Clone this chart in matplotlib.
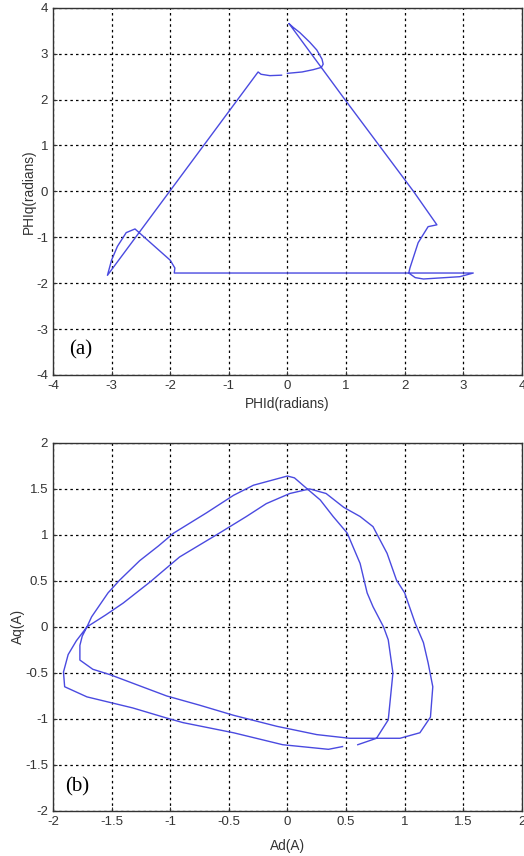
import numpy as np
import matplotlib.pyplot as plt

# (a) flux locus
phid = [0.03, 0.98, 2.15, 2.55, 2.4, 2.23, 2.09, 2.07, 2.18, 2.32, 2.94, 3.17,
        -1.93, -1.92, -2.0, -2.6, -2.75, -2.9, -3.0, -3.07,
        -0.5, -0.45, -0.3, -0.1, np.nan, 0.0, 0.25, 0.44, 0.58, 0.61, 0.59, 0.5, 0.38, 0.21, 0.1, 0.03]
phiq = [3.65, 2.0, 0.0, -0.73, -0.77, -1.12, -1.67, -1.78, -1.88, -1.91, -1.86, -1.78,
        -1.78, -1.67, -1.5, -0.82, -0.9, -1.2, -1.5, -1.83,
        2.6, 2.55, 2.52, 2.53, np.nan, 2.57, 2.6, 2.65, 2.7, 2.77, 2.88, 3.08, 3.25, 3.46, 3.57, 3.65]

# (b) current locus
ad = [0.6, 0.76, 0.86, 0.9, 0.86, 0.82, 0.73, 0.68, 0.62, 0.51, 0.39, 0.28, 0.16, 0.06, 0.0,
      -0.29, -0.46, -0.69, -0.97, -1.1, -1.26, -1.43, -1.53, -1.6, -1.67, -1.71, -1.75, -1.77, -1.77,
      -1.66, -1.51, -1.26, -1.03, -0.75, -0.46, -0.09, 0.25, 0.53, 0.96, 1.13, 1.22, 1.24, 1.2, 1.16, 1.09,
      1.0, 0.93, 0.85, 0.73, 0.62, 0.48, 0.33, 0.19, 0.02, -0.18, -0.35, -0.58, -0.75, -0.92, -1.05,
      -1.17, -1.29, -1.4, -1.55, -1.71, -1.8, -1.87, -1.91, -1.9, -1.71, -1.32, -1.03, -0.89, -0.46,
      -0.04, 0.35, 0.47]
aq = [-1.28, -1.21, -1.01, -0.5, -0.14, 0.0, 0.22, 0.37, 0.69, 1.02, 1.2, 1.38, 1.51, 1.62, 1.64,
      1.54, 1.43, 1.24, 1.02, 0.88, 0.72, 0.51, 0.37, 0.24, 0.11, 0.0, -0.1, -0.2, -0.36,
      -0.46, -0.52, -0.64, -0.75, -0.85, -0.96, -1.08, -1.17, -1.21, -1.21, -1.15, -0.98, -0.65, -0.39, -0.17, 0.04,
      0.37, 0.51, 0.8, 1.09, 1.2, 1.3, 1.45, 1.5, 1.45, 1.34, 1.2, 1.02, 0.89, 0.76, 0.62,
      0.49, 0.37, 0.26, 0.13, 0.0, -0.15, -0.3, -0.49, -0.65, -0.76, -0.88, -0.99, -1.04, -1.15,
      -1.28, -1.33, -1.3]

plt.rcParams['font.family'] = ['Liberation Sans', 'DejaVu Sans']
plt.rcParams['axes.unicode_minus'] = False
line_c = '#4a4ae0'
txt_c = '#333333'

fig = plt.figure(figsize=(5.24, 8.56), dpi=100)
ax1 = fig.add_axes([0.101, 0.562, 0.895, 0.429])
ax2 = fig.add_axes([0.101, 0.0526, 0.895, 0.430])

for ax in (ax1, ax2):
    ax.grid(True, color='black', linestyle=(0, (2, 2.5)), linewidth=0.9)
    ax.tick_params(direction='in', length=3, labelsize=9.5, colors=txt_c, labelcolor=txt_c)
    for s in ax.spines.values():
        s.set_color(txt_c)
        s.set_linewidth(1.0)

ax1.plot(phid, phiq, color=line_c, lw=1.0)
ax1.set_xlim(-4, 4)
ax1.set_ylim(-4, 4)
ax1.set_xticks(range(-4, 5))
ax1.set_yticks(range(-4, 5))
ax1.set_xlabel('PHId(radians)', fontsize=9.8, color=txt_c, labelpad=4)
ax1.set_ylabel('PHIq(radians)', fontsize=9.8, color=txt_c, labelpad=0)
ax1.text(-3.72, -3.45, '(a)', fontsize=15, family='Liberation Serif', va='center')

ax2.plot(ad, aq, color=line_c, lw=1.0)
ax2.set_xlim(-2, 2)
ax2.set_ylim(-2, 2)
ax2.set_xticks(np.arange(-2, 2.01, 0.5))
ax2.set_yticks(np.arange(-2, 2.01, 0.5))
ax2.set_xticklabels(['-2', '-1.5', '-1', '-0.5', '0', '0.5', '1', '1.5', '2'])
ax2.set_yticklabels(['-2', '-1.5', '-1', '-0.5', '0', '0.5', '1', '1.5', '2'])
ax2.set_xlabel('Ad(A)', fontsize=9.8, color=txt_c, labelpad=8)
ax2.set_ylabel('Aq(A)', fontsize=9.8, color=txt_c, labelpad=0)
ax2.text(-1.9, -1.74, '(b)', fontsize=15, family='Liberation Serif', va='center')

fig.savefig('out.png', dpi=100)
